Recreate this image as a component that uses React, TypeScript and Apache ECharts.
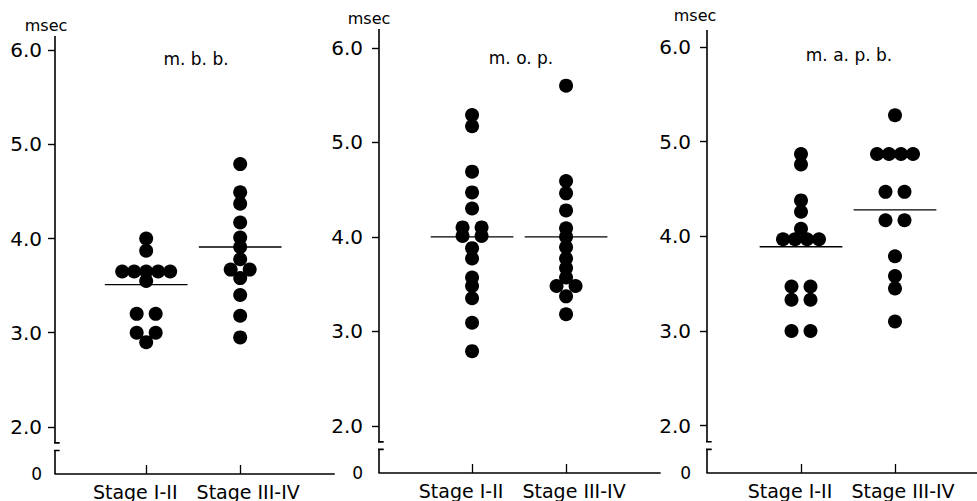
import React, { useEffect, useRef } from "react";
import * as echarts from "echarts";

// ---------- data ----------
const categories = ["Stage I-II", "Stage III-IV"];
const panelTitles = ["m. b. b.", "m. o. p.", "m. a. p. b."];
const unitLabel = "msec";
const yTickValues = [2, 3, 4, 5, 6];
const yLabelValues = [1.5, 2, 3, 4, 5, 6];
const yTickLabels = ["0", "2.0", "3.0", "4.0", "5.0", "6.0"];

const mbbStage12 = [4.0, 3.87, 3.65, 3.65, 3.65, 3.65, 3.65, 3.55, 3.2, 3.2, 3.0, 3.0, 2.9];
const mbbStage34 = [4.79, 4.49, 4.37, 4.17, 4.01, 3.91, 3.78, 3.67, 3.67, 3.58, 3.4, 3.18, 2.95];
const mopStage12 = [5.29, 5.17, 4.69, 4.47, 4.3, 4.1, 4.1, 4.01, 4.01, 3.88, 3.77, 3.57, 3.48, 3.35, 3.09, 2.79];
const mopStage34 = [5.6, 4.59, 4.46, 4.28, 4.09, 4.0, 3.89, 3.77, 3.67, 3.57, 3.48, 3.48, 3.37, 3.18];
const mapbStage12 = [4.87, 4.76, 4.38, 4.26, 4.08, 3.97, 3.97, 3.97, 3.97, 3.47, 3.47, 3.33, 3.33, 3.0, 3.0];
const mapbStage34 = [5.28, 4.87, 4.87, 4.87, 4.87, 4.47, 4.47, 4.17, 4.17, 3.79, 3.58, 3.45, 3.1];

const mbbMeans = [3.51, 3.91];
const mopMeans = [4.0, 4.0];
const mapbMeans = [3.89, 4.28];

const panelData = [
  [mbbStage12, mbbStage34],
  [mopStage12, mopStage34],
  [mapbStage12, mapbStage34],
];
const panelMeans = [mbbMeans, mopMeans, mapbMeans];

// ---------- layout / style ----------
const FONT = "DejaVu Sans";
const INK = "#000";
const PX_PER_X = 94;
const layouts = [
  { left: 55, top: 36, height: 438, xMin: 0.03, xMax: 3.0, yMax: 6.15, labelMargin: 13, titleX: 196, titleY: 59, unitX: 46, unitY: 25 },
  { left: 379, top: 29, height: 444, xMin: 0.01, xMax: 3.0, yMax: 6.2, labelMargin: 16, titleX: 521, titleY: 58, unitX: 369, unitY: 18 },
  { left: 707, top: 30, height: 443, xMin: 0.0, xMax: 2.87, yMax: 6.18, labelMargin: 16, titleX: 849, titleY: 55, unitX: 695, unitY: 15 },
];
const Y_MIN = 1.5;
const BREAK_LO = 1.75;
const BREAK_HI = 1.83;
const BREAK_HALF = 0.05;
const MEAN_HALF = 0.44;

function dodge(values: number[]): number[] {
  const groups = new Map<number, number>();
  values.forEach((v) => groups.set(v, (groups.get(v) || 0) + 1));
  const seen = new Map<number, number>();
  return values.map((v) => {
    const n = groups.get(v) || 1;
    const i = seen.get(v) || 0;
    seen.set(v, i + 1);
    const spacing = n === 2 ? 19 : 12;
    return (i - (n - 1) / 2) * spacing;
  });
}

function buildOption() {
  const grid: any[] = [];
  const xAxis: any[] = [];
  const yAxis: any[] = [];
  const series: any[] = [];
  const graphic: any[] = [];

  layouts.forEach((L, p) => {
    grid.push({
      left: L.left,
      top: L.top,
      width: (L.xMax - L.xMin) * PX_PER_X,
      height: L.height,
      containLabel: false,
    });
    xAxis.push({
      type: "value",
      gridIndex: p,
      min: L.xMin,
      max: L.xMax,
      splitLine: { show: false },
      axisLine: { show: true, lineStyle: { color: INK, width: 1.6 } },
      axisTick: { show: true, inside: true, length: 9, customValues: [1, 2], lineStyle: { color: INK, width: 1.3 } },
      axisLabel: {
        show: true,
        customValues: [1, 2],
        margin: 8,
        formatter: (v: number) => (v === 1 ? `{a|${categories[0]}}` : `{b|${categories[1]}}`),
        rich: {
          a: { fontFamily: FONT, fontSize: 19, color: INK, padding: [0, 22, 0, 0] },
          b: { fontFamily: FONT, fontSize: 19, color: INK, padding: [0, 0, 0, 16] },
        },
      },
    });
    yAxis.push({
      type: "value",
      gridIndex: p,
      min: Y_MIN,
      max: L.yMax,
      splitLine: { show: false },
      axisLine: { show: false },
      axisTick: { show: true, inside: false, length: 7, customValues: yTickValues, lineStyle: { color: INK, width: 1.4 } },
      axisLabel: {
        show: true,
        customValues: yLabelValues,
        margin: L.labelMargin,
        fontFamily: FONT,
        fontSize: 20,
        color: INK,
        formatter: (v: number) => {
          const idx = yLabelValues.indexOf(v);
          if (idx === 0) return `{z|${yTickLabels[0]}}`;
          return idx >= 0 ? yTickLabels[idx] : "";
        },
        rich: { z: { fontFamily: FONT, fontSize: 17, color: INK } },
      },
    });

    // broken y axis line
    series.push({
      type: "line",
      xAxisIndex: p,
      yAxisIndex: p,
      data: [
        [L.xMin, Y_MIN],
        [L.xMin, BREAK_LO],
        [L.xMin - BREAK_HALF, BREAK_LO],
        [L.xMin + BREAK_HALF, BREAK_LO],
      ],
      symbol: "none",
      clip: false,
      silent: true,
      lineStyle: { color: INK, width: 1.6, join: "miter", cap: "butt" },
      z: 3,
    });
    series.push({
      type: "line",
      xAxisIndex: p,
      yAxisIndex: p,
      data: [
        [L.xMin - BREAK_HALF, BREAK_HI],
        [L.xMin + BREAK_HALF, BREAK_HI],
        [L.xMin, BREAK_HI],
        [L.xMin, L.yMax],
      ],
      symbol: "none",
      clip: false,
      silent: true,
      lineStyle: { color: INK, width: 1.6, join: "miter", cap: "butt" },
      z: 3,
    });

    panelData[p].forEach((vals, c) => {
      const offs = dodge(vals);
      series.push({
        type: "scatter",
        xAxisIndex: p,
        yAxisIndex: p,
        symbol: "circle",
        symbolSize: 14,
        itemStyle: { color: INK, opacity: 1 },
        silent: true,
        z: 4,
        data: vals.map((v, i) => ({ value: [c + 1, v], symbolOffset: [offs[i], 0] })),
      });
      const m = panelMeans[p][c];
      series.push({
        type: "line",
        xAxisIndex: p,
        yAxisIndex: p,
        data: [
          [c + 1 - MEAN_HALF, m],
          [c + 1 + MEAN_HALF, m],
        ],
        symbol: "none",
        silent: true,
        lineStyle: { color: INK, width: 1.4 },
        z: 5,
      });
    });

    graphic.push({
      type: "text",
      x: L.titleX,
      y: L.titleY,
      style: {
        text: panelTitles[p],
        fontFamily: FONT,
        fontSize: 17,
        fill: INK,
        textAlign: "center",
        textVerticalAlign: "middle",
      },
    });
    graphic.push({
      type: "text",
      x: L.unitX,
      y: L.unitY,
      style: {
        text: unitLabel,
        fontFamily: FONT,
        fontSize: 16,
        fill: INK,
        textAlign: "center",
        textVerticalAlign: "middle",
      },
    });
  });

  return {
    animation: false,
    backgroundColor: "#fff",
    grid,
    xAxis,
    yAxis,
    series,
    graphic,
  };
}

export default function App() {
  const ref = useRef<HTMLDivElement>(null);
  useEffect(() => {
    if (!ref.current) return;
    const chart = echarts.init(ref.current, undefined, { renderer: "svg" });
    chart.setOption(buildOption() as any);
    return () => chart.dispose();
  }, []);
  return (
    <div
      ref={ref}
      style={{ position: "absolute", left: 0, top: 0, width: 977, height: 501, background: "#fff" }}
    />
  );
}
